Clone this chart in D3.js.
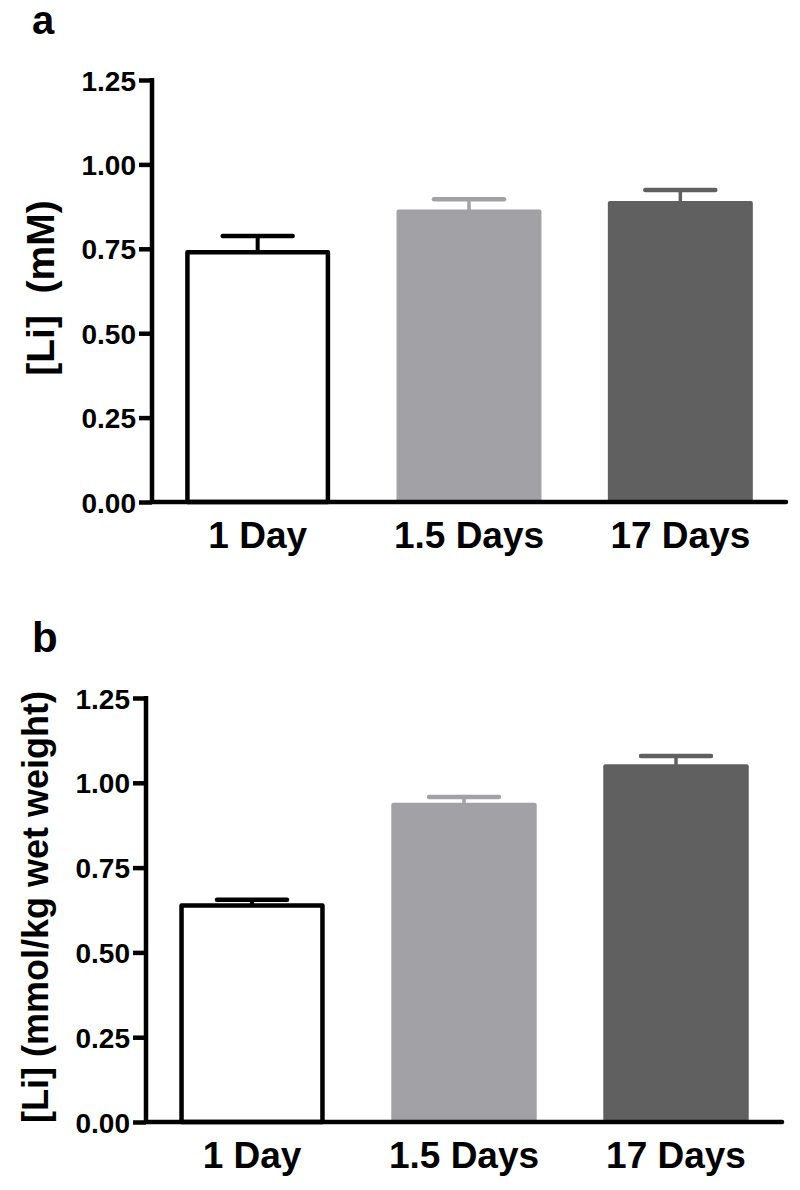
<!DOCTYPE html>
<html>
<head>
<meta charset="utf-8">
<script src="https://cdn.jsdelivr.net/npm/d3@7"></script>
<style>
  html, body { margin: 0; padding: 0; background: #fff; }
  svg { display: block; font-family: "Liberation Sans", Arial, Helvetica, sans-serif; font-weight: bold; }
</style>
</head>
<body>
<svg id="chart" width="800" height="1190"></svg>
<script>
// ---- data ----
const categories = ["1 Day", "1.5 Days", "17 Days"];
const barColors = ["#ffffff", "#a2a1a6", "#606060"];
const meansA = [0.740, 0.862, 0.887];
const semA   = [0.048, 0.035, 0.037];
const meansB = [0.638, 0.937, 1.050];
const semB   = [0.017, 0.021, 0.029];
const yTicks = [0, 0.25, 0.5, 0.75, 1.0, 1.25];
const yTickLabels = ["0.00", "0.25", "0.50", "0.75", "1.00", "1.25"];
const panelLetters = ["a", "b"];
const yTitles = ["[Li]  (mM)", "[Li] (mmol/kg wet weight)"];

const svg = d3.select("#chart");

const panels = [
  { letter: panelLetters[0], means: meansA, sem: semA, title: yTitles[0],
    x0: 152, x1: 786, yTop: 80, yBot: 502, titleX: 40, titleSize: 39, letterX: 32, letterY: 34, letterSize: 40 },
  { letter: panelLetters[1], means: meansB, sem: semB, title: yTitles[1],
    x0: 146, x1: 782, yTop: 698, yBot: 1122, titleX: 35, titleSize: 36, letterX: 32, letterY: 652, letterSize: 42 }
];

panels.forEach(p => {
  const g = svg.append("g");
  const x = d3.scaleBand().domain(categories).range([p.x0, p.x1])
    .paddingInner(0.314).paddingOuter(0.157);
  const y = d3.scaleLinear().domain([0, 1.25]).range([p.yBot, p.yTop]);

  // bars
  categories.forEach((c, i) => {
    const bx = x(c), bw = x.bandwidth();
    const v = p.means[i];
    const cx = bx + bw / 2;
    const col = barColors[i];
    const lineCol = i === 0 ? "#000" : col;
    // error bar (upper)
    g.append("line").attr("x1", cx).attr("x2", cx)
      .attr("y1", y(v)).attr("y2", y(v + p.sem[i]))
      .attr("stroke", lineCol).attr("stroke-width", i === 0 ? 4 : 3.5);
    g.append("line").attr("x1", cx - 35).attr("x2", cx + 35)
      .attr("y1", y(v + p.sem[i])).attr("y2", y(v + p.sem[i]))
      .attr("stroke", lineCol).attr("stroke-width", 4.5).attr("stroke-linecap", "round");
    if (i === 0) {
      const sw = 4.5;
      g.append("rect").attr("x", bx + sw / 2).attr("width", bw - sw)
        .attr("y", y(v)).attr("height", y(0) - y(v))
        .attr("fill", "#fff").attr("stroke", "#000").attr("stroke-width", sw)
        .attr("stroke-linejoin", "round");
    } else {
      g.append("rect").attr("x", bx).attr("width", bw)
        .attr("y", y(v) - 1.5).attr("height", y(0) - y(v) + 1.5)
        .attr("rx", 2).attr("fill", col);
    }
  });

  // y axis
  const yAxis = d3.axisLeft(y).tickValues(yTicks)
    .tickFormat((d, i) => yTickLabels[i]).tickSize(13).tickSizeOuter(0).tickPadding(3);
  const ya = g.append("g").attr("transform", `translate(${p.x0},0)`).call(yAxis);
  ya.select(".domain").attr("stroke", "#000").attr("stroke-width", 4.5)
    .attr("d", `M0,${p.yTop - 2}V${p.yBot}`);
  ya.selectAll(".tick line").attr("stroke", "#000").attr("stroke-width", 4.5);
  ya.selectAll(".tick text").attr("fill", "#000").style("font-size", "28px")
    .style("font-family", "'Liberation Sans', Arial, sans-serif").style("font-weight", "bold")
    .attr("dy", "0.36em");

  // x axis
  const xAxis = d3.axisBottom(x).tickSize(0).tickSizeOuter(0).tickPadding(20);
  const xa = g.append("g").attr("transform", `translate(0,${p.yBot})`).call(xAxis);
  xa.select(".domain").attr("stroke", "#000").attr("stroke-width", 4.5)
    .attr("stroke-linecap", "round").attr("d", `M${p.x0},0H${p.x1}`);
  xa.selectAll(".tick text").attr("fill", "#000").style("font-size", "37px")
    .style("font-family", "'Liberation Sans', Arial, sans-serif").style("font-weight", "bold");

  // y title
  g.append("text")
    .attr("transform", `translate(${p.titleX},${(p.yTop + p.yBot) / 2 - 3}) rotate(-90)`)
    .attr("text-anchor", "middle").attr("dy", "0.35em")
    .style("font-size", p.titleSize + "px").style("white-space", "pre")
    .attr("xml:space", "preserve")
    .text(p.title);

  // panel letter
  g.append("text").attr("x", p.letterX).attr("y", p.letterY)
    .style("font-size", p.letterSize + "px").text(p.letter);
});
</script>
</body>
</html>
